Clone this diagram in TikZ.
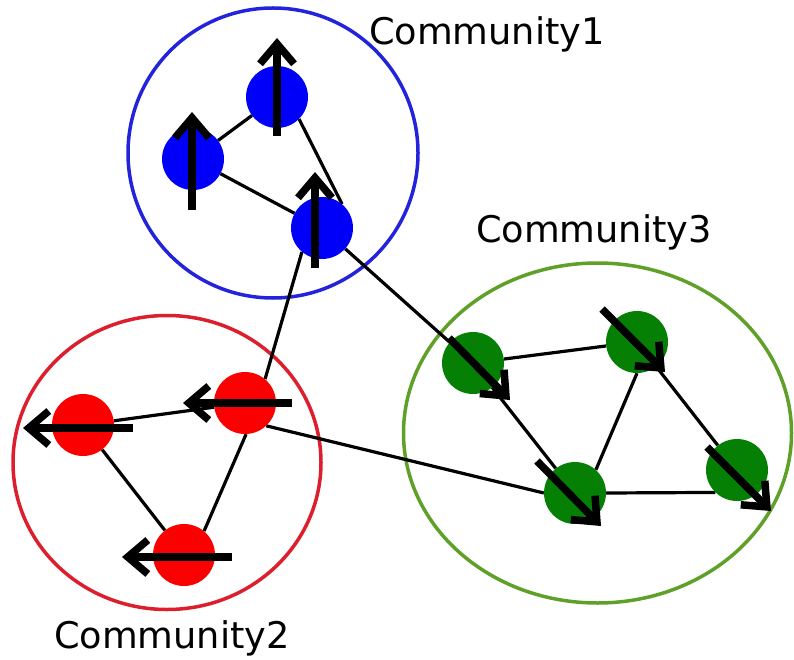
\documentclass[tikz,border=0pt]{standalone}
\usepackage{fontspec}
\setmainfont{DejaVu Sans}
\usetikzlibrary{arrows.meta}
\definecolor{bnode}{RGB}{0,0,250}
\definecolor{bring}{RGB}{35,35,220}
\definecolor{rnode}{RGB}{250,0,0}
\definecolor{rring}{RGB}{220,30,45}
\definecolor{gnode}{RGB}{5,128,5}
\definecolor{gring}{RGB}{95,160,40}
\tikzset{
  vtx/.style={circle, minimum size=62pt, inner sep=0pt},
  edge/.style={line width=3.2pt, black},
  spin/.style={line width=7.5pt, black, -{Straight Barb[length=20pt,width=34pt]}},
  ring/.style={line width=3.5pt},
  lbl/.style={font=\fontsize{36.7}{44}\selectfont, anchor=base, inner sep=0pt}
}
\begin{document}
\begin{tikzpicture}[x=1pt,y=-1pt]
\useasboundingbox (0,0) rectangle (794,660);
% community rings
\draw[ring, bring] (273,153) ellipse [x radius=145, y radius=145];
\draw[ring, rring] (167,462.5) ellipse [x radius=154, y radius=147];
\draw[ring, gring] (597.5,433) ellipse [x radius=194, y radius=170];
% nodes (named now, filled after the edges)
\path (277,97) node[vtx] (b1) {} (193,159) node[vtx] (b2) {} (322,228) node[vtx] (b3) {};
\path (245,403) node[vtx] (r1) {} (83,425) node[vtx] (r2) {} (184,555) node[vtx] (r3) {};
\path (473,363) node[vtx] (g1) {} (637,342) node[vtx] (g2) {} (575,493) node[vtx] (g3) {} (737,470) node[vtx] (g4) {};
% edges
\draw[edge] (b1) -- (b2);
\draw[edge] (b2) -- (b3);
\draw[edge] (b1.-45) -- (b3.50);
\draw[edge] (b3.-130) -- (r1.50);
\draw[edge] (b3) -- (g1);
\draw[edge] (r1) -- (r2);
\draw[edge] (r2) -- (r3);
\draw[edge] (r1.-88) -- (r3.50);
\draw[edge] (r1.-47) -- (g3.180);
\draw[edge] (g1) -- (g2);
\draw[edge] (g1) -- (g3);
\draw[edge] (g2.-90) -- (g3.48);
\draw[edge] (g2) -- (g4);
\draw[edge] (g3.0) -- (g4.-134);
% node fills
\foreach \n in {b1,b2,b3} \fill[bnode] (\n) circle (31);
\foreach \n in {r1,r2,r3} \fill[rnode] (\n) circle (31);
\foreach \n in {g1,g2,g3,g4} \fill[gnode] (\n) circle (31);
% spins
\coordinate (sb1a) at (277,136); \coordinate (sb1b) at (277,38);
\coordinate (sb2a) at (192,210); \coordinate (sb2b) at (192,112);
\coordinate (sb3a) at (315,268); \coordinate (sb3b) at (315,172);
\coordinate (sr1a) at (292,403); \coordinate (sr1b) at (183,403);
\coordinate (sr2a) at (133,428); \coordinate (sr2b) at (23,428);
\coordinate (sr3a) at (232,557); \coordinate (sr3b) at (122,557);
\coordinate (sg1a) at (449,338); \coordinate (sg1b) at (510,400);
\coordinate (sg2a) at (602,309); \coordinate (sg2b) at (665,372);
\coordinate (sg3a) at (537,461); \coordinate (sg3b) at (601,526);
\coordinate (sg4a) at (707,447); \coordinate (sg4b) at (771,511);
\foreach \s in {b1,b2,b3,r1,r2,r3,g1,g2,g3,g4} \draw[spin] (s\s a) -- (s\s b);
% labels
\node[lbl] (c1) at (487,45) {Community1};
\node[lbl] (c3) at (594,243) {Community3};
\node[lbl] (c2) at (172,648) {Community2};
\end{tikzpicture}
\end{document}
